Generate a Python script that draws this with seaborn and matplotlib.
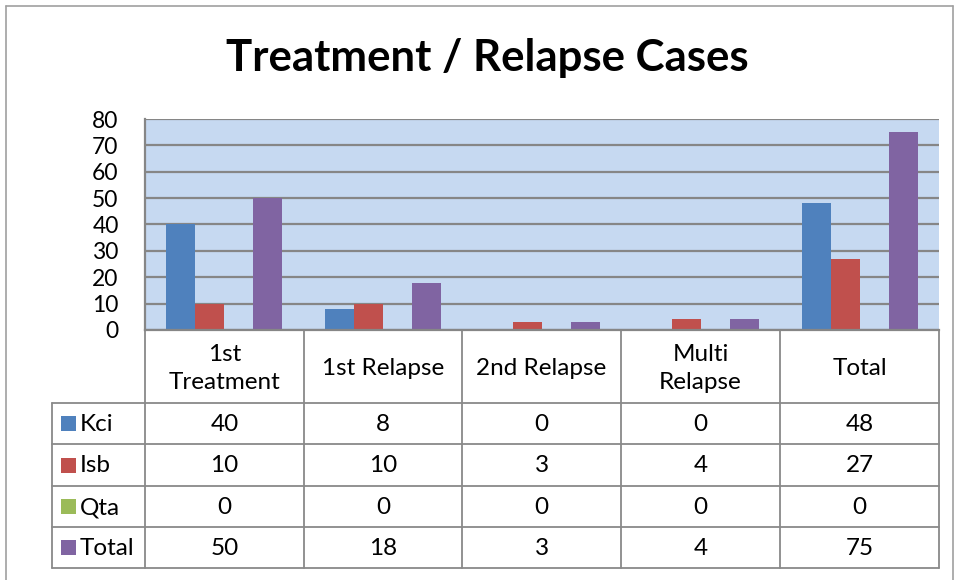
import matplotlib
matplotlib.use("Agg")
import matplotlib.pyplot as plt
import seaborn as sns
import pandas as pd
from matplotlib.patches import Rectangle
from matplotlib.lines import Line2D

categories = ["1st\nTreatment", "1st Relapse", "2nd Relapse", "Multi\nRelapse", "Total"]
series = ["Kci", "Isb", "Qta", "Total"]
kci = [40, 8, 0, 0, 48]
isb = [10, 10, 3, 4, 27]
qta = [0, 0, 0, 0, 0]
total = [50, 18, 3, 4, 75]
yticks = [0, 10, 20, 30, 40, 50, 60, 70, 80]
title = "Treatment / Relapse Cases"

colors = ["#4F81BD", "#C0504D", "#9BBB59", "#8064A2"]
values = [kci, isb, qta, total]

rows = []
for s, vals in zip(series, values):
    for c, v in zip(categories, vals):
        rows.append({"category": c, "series": s, "value": v})
df = pd.DataFrame(rows)

sns.set_theme(style="white")
plt.rcParams["font.family"] = ["Lato", "DejaVu Sans"]

W, H = 960, 580
fig = plt.figure(figsize=(W / 100, H / 100), dpi=100)

def fx(x):
    return x / W

def fy(y):
    return 1 - y / H

# pixel overlay
ov = fig.add_axes([0, 0, 1, 1], zorder=0)
ov.set_xlim(0, W)
ov.set_ylim(H, 0)
ov.axis("off")

# main plot axes: x 145..939, y 119..330
L, R, T, B = 145, 939, 119, 330
ax = fig.add_axes([fx(L), fy(B), fx(R) - fx(L), fy(T) - fy(B)], zorder=2)
sns.barplot(data=df, x="category", y="value", hue="series", hue_order=series,
            palette=colors, width=0.73, saturation=1, ax=ax, legend=False,
            linewidth=0, errorbar=None)
ax.set_facecolor("#C6D9F1")
ax.set_xlim(-0.5, len(categories) - 0.5)
ax.set_ylim(0, 80)
ax.set_yticks(yticks)
ax.set_yticklabels([str(t) for t in yticks], fontsize=16.5)
ax.tick_params(axis="y", length=0, pad=19, colors="black")
ax.set_xticks([])
ax.set_xlabel("")
ax.set_ylabel("")
ax.yaxis.grid(True, color="#868686", linewidth=1.6)
ax.set_axisbelow(True)
for sp in ["top", "right"]:
    ax.spines[sp].set_visible(False)
for sp in ["left", "bottom"]:
    ax.spines[sp].set_color("#868686")
    ax.spines[sp].set_linewidth(1.6)

# title
ov.text(487, 58, title, ha="center", va="center", fontsize=31.5, fontweight="bold", color="black")

# outer border
lc = "#898989"
ov.add_line(Line2D([6, 6], [6, 580], color="#A0A0A0", lw=1.2))
ov.add_line(Line2D([6, 953], [6, 6], color="#A0A0A0", lw=1.2))
ov.add_line(Line2D([953, 953], [6, 580], color="#A0A0A0", lw=1.2))

# data table
col_edges = [145, 304, 462, 621, 780, 939]
row_edges = [403, 444, 486, 527, 568]
TL = 52
for x in col_edges:
    ov.add_line(Line2D([x, x], [B, row_edges[-1]], color=lc, lw=1.3))
ov.add_line(Line2D([TL, TL], [row_edges[0], row_edges[-1]], color=lc, lw=1.3))
for y in row_edges:
    ov.add_line(Line2D([TL, col_edges[-1]], [y, y], color=lc, lw=1.3))

fs = 17.5
for i, c in enumerate(categories):
    cx = (col_edges[i] + col_edges[i + 1]) / 2
    ov.text(cx, (B + row_edges[0]) / 2 + 2, c, ha="center", va="center",
            fontsize=fs, linespacing=1.45, color="black")
for r, (s, vals, col) in enumerate(zip(series, values, colors)):
    cy = (row_edges[r] + row_edges[r + 1]) / 2
    ov.add_patch(Rectangle((61, cy - 7.5), 15, 15, facecolor=col, edgecolor="none"))
    ov.text(80, cy + 1, s, ha="left", va="center", fontsize=fs, color="black")
    for i, v in enumerate(vals):
        cx = (col_edges[i] + col_edges[i + 1]) / 2
        ov.text(cx, cy + 1, str(v), ha="center", va="center", fontsize=fs, color="black")

fig.savefig("out.png", dpi=100, facecolor="white")
